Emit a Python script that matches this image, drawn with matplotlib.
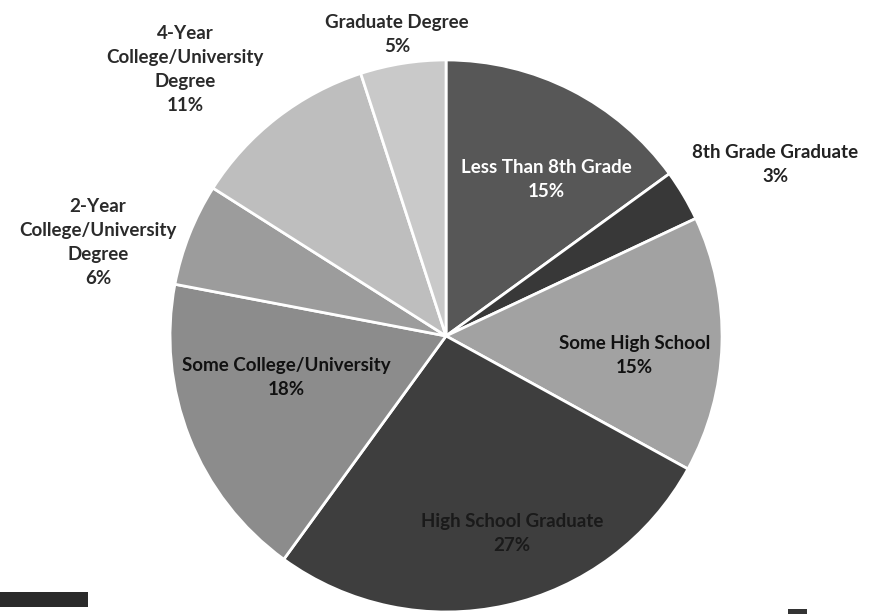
import numpy as np
import matplotlib
matplotlib.use("Agg")
import matplotlib.pyplot as plt
from matplotlib.patches import Rectangle

# Data
categories = ["Less Than 8th Grade", "8th Grade Graduate", "Some High School",
              "High School Graduate", "Some College/University",
              "2-Year\nCollege/University\nDegree",
              "4-Year\nCollege/University\nDegree", "Graduate Degree"]
shares = [15, 3, 15, 27, 18, 6, 11, 5]
colors = ["#575757", "#383838", "#a2a2a2", "#3e3e3e", "#8c8c8c",
          "#9c9c9c", "#bebebe", "#c9c9c9"]
label_colors = ["white", "#222222", "#111111", "#1a1a1a", "#111111",
                "#2a2a2a", "#2a2a2a", "#2a2a2a"]

# label placement: radius factor and angle shift (deg) per slice
label_radius = [0.674, 1.344, 0.685, 0.753, 0.598, 1.305, 1.352, 1.106]
label_shift = [-5.5, -3.1, -4.0, 5.9, -7.2, 6.6, 6.6, 0.2]

fig = plt.figure(figsize=(8.71, 6.15), dpi=100)
ax = fig.add_axes([0.1952, 0.0049, 0.6338, 0.8976])

wedges, _ = ax.pie(shares, colors=colors, startangle=90, counterclock=False,
                   radius=1.0,
                   wedgeprops=dict(edgecolor="white", linewidth=2))
ax.set_xlim(-1, 1)
ax.set_ylim(-1, 1)
ax.set_aspect("equal")
ax.axis("off")

for w, name, val, r, d, c in zip(wedges, categories, shares, label_radius,
                                 label_shift, label_colors):
    mid = np.deg2rad((w.theta1 + w.theta2) / 2 + d)
    ax.text(r * np.cos(mid), r * np.sin(mid), f"{name}\n{val}%",
            ha="center", va="center", fontsize=13.5, fontweight="bold",
            family=["Lato", "DejaVu Sans"], color=c, linespacing=1.5,
            clip_on=False)

# small dark marks at the bottom corners (cropped legend keys)
fig.patches.append(Rectangle((0, 0.013), 0.101, 0.0244, transform=fig.transFigure,
                             facecolor="#2a2a2a", edgecolor="none"))
fig.patches.append(Rectangle((0.905, 0.002), 0.022, 0.008, transform=fig.transFigure,
                             facecolor="#333333", edgecolor="none"))

fig.savefig("out.png", dpi=100)
